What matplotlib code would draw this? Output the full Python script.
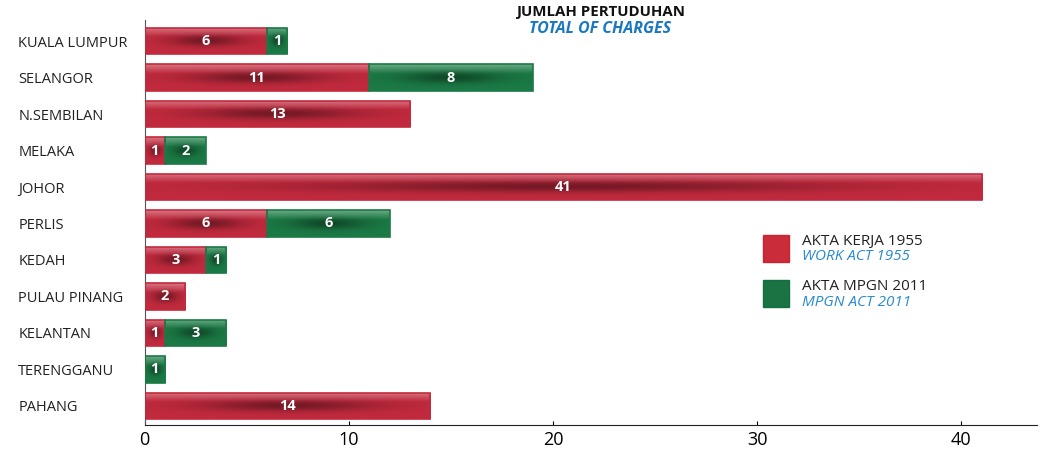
import matplotlib.pyplot as plt
import numpy as np
from matplotlib.patches import Rectangle
from matplotlib.colors import to_rgb

plt.rcParams['font.family'] = ['Open Sans', 'DejaVu Sans']

states = ['KUALA LUMPUR', 'SELANGOR', 'N.SEMBILAN', 'MELAKA', 'JOHOR', 'PERLIS',
          'KEDAH', 'PULAU PINANG', 'KELANTAN', 'TERENGGANU', 'PAHANG']
kerja = [6, 11, 13, 1, 41, 6, 3, 2, 1, 0, 14]
mpgn = [1, 8, 0, 2, 0, 6, 1, 0, 3, 1, 0]
xticks = [0, 10, 20, 30, 40]

red = '#c22a3e'
green = '#1b7a45'


def shaded(ax, bar, base):
    """fill a bar with a glossy gradient clipped to its shape"""
    x0, y0 = bar.get_x(), bar.get_y()
    w, h = bar.get_width(), bar.get_height()
    if w <= 0:
        return
    c = np.array(to_rgb(base))
    ny, nx = 40, 120
    v = np.linspace(0, 1, ny)[:, None]   # 0 = top of bar on screen
    u = np.linspace(-1, 1, nx)[None, :]
    light = 0.35 * np.clip(1 - v / 0.35, 0, 1)           # light band on top
    dark = 0.4 * np.exp(-((v - 0.5) / 0.22) ** 2) * np.exp(-(u / 0.6) ** 2)
    img = np.empty((ny, nx, 3))
    for k in range(3):
        col = c[k] * (1 - dark) + light * (1 - c[k])
        img[:, :, k] = np.clip(col, 0, 1)
    im = ax.imshow(img, extent=(x0, x0 + w, y0 + h, y0), aspect='auto',
                   zorder=2, interpolation='bilinear')
    im.set_clip_path(bar)
    ax.add_patch(Rectangle((x0, y0), w, h, fill=False, edgecolor=base,
                           linewidth=1.2, zorder=3))


fig = plt.figure(figsize=(10.4, 4.55), dpi=100)
ax = fig.add_axes([0.139, 0.066, 0.858, 0.89])

y = np.arange(len(states))
b1 = ax.barh(y, kerja, height=0.72, color=red, zorder=1)
b2 = ax.barh(y, mpgn, left=kerja, height=0.72, color=green, zorder=1)

for bars, vals, col in [(b1, kerja, red), (b2, mpgn, green)]:
    for bar, v in zip(bars, vals):
        shaded(ax, bar, col)
        if v > 0:
            ax.text(bar.get_x() + bar.get_width() / 2, bar.get_y() + bar.get_height() / 2,
                    str(v), ha='center', va='center', color='white',
                    fontsize=10.5, fontweight='bold', zorder=4)

ax.set_xlim(0, 43.7)
ax.set_ylim(10.52, -0.575)
ax.set_xticks(xticks)
ax.set_xticklabels([str(t) for t in xticks], fontsize=13)
ax.tick_params(axis='x', direction='in', length=3, pad=4)
ax.set_yticks(y)
ax.set_yticklabels(states, fontsize=10.5, ha='left', color='#222222')
ax.tick_params(axis='y', length=0, pad=91)
for s in ['top', 'right']:
    ax.spines[s].set_visible(False)
ax.spines['left'].set_color('#555555')
ax.spines['bottom'].set_color('#222222')

fig.text(0.577, 0.973, 'JUMLAH PERTUDUHAN', ha='center', va='center',
         fontsize=10.8, fontweight='bold', color='#111111')
fig.text(0.577, 0.936, 'TOTAL OF CHARGES', ha='center', va='center',
         fontsize=11.5, fontweight='bold', style='italic', color='#1a78c2')

# legend
for yy, col, t1, t2 in [(235, '#c8202e', 'AKTA KERJA 1955', 'WORK ACT 1955'),
                        (280, '#0e6b3a', 'AKTA MPGN 2011', 'MPGN ACT 2011')]:
    fig.patches.append(Rectangle((763 / 1040, 1 - (yy + 27) / 455), 26 / 1040, 27 / 455,
                                 transform=fig.transFigure, facecolor=col,
                                 edgecolor=col, alpha=0.95))
    fig.text(802 / 1040, 1 - (yy + 6) / 455, t1, fontsize=11, va='center', color='#222222')
    fig.text(802 / 1040, 1 - (yy + 22) / 455, t2, fontsize=11, va='center',
             style='italic', color='#2a8ad0')

plt.savefig('out.png', dpi=100)
